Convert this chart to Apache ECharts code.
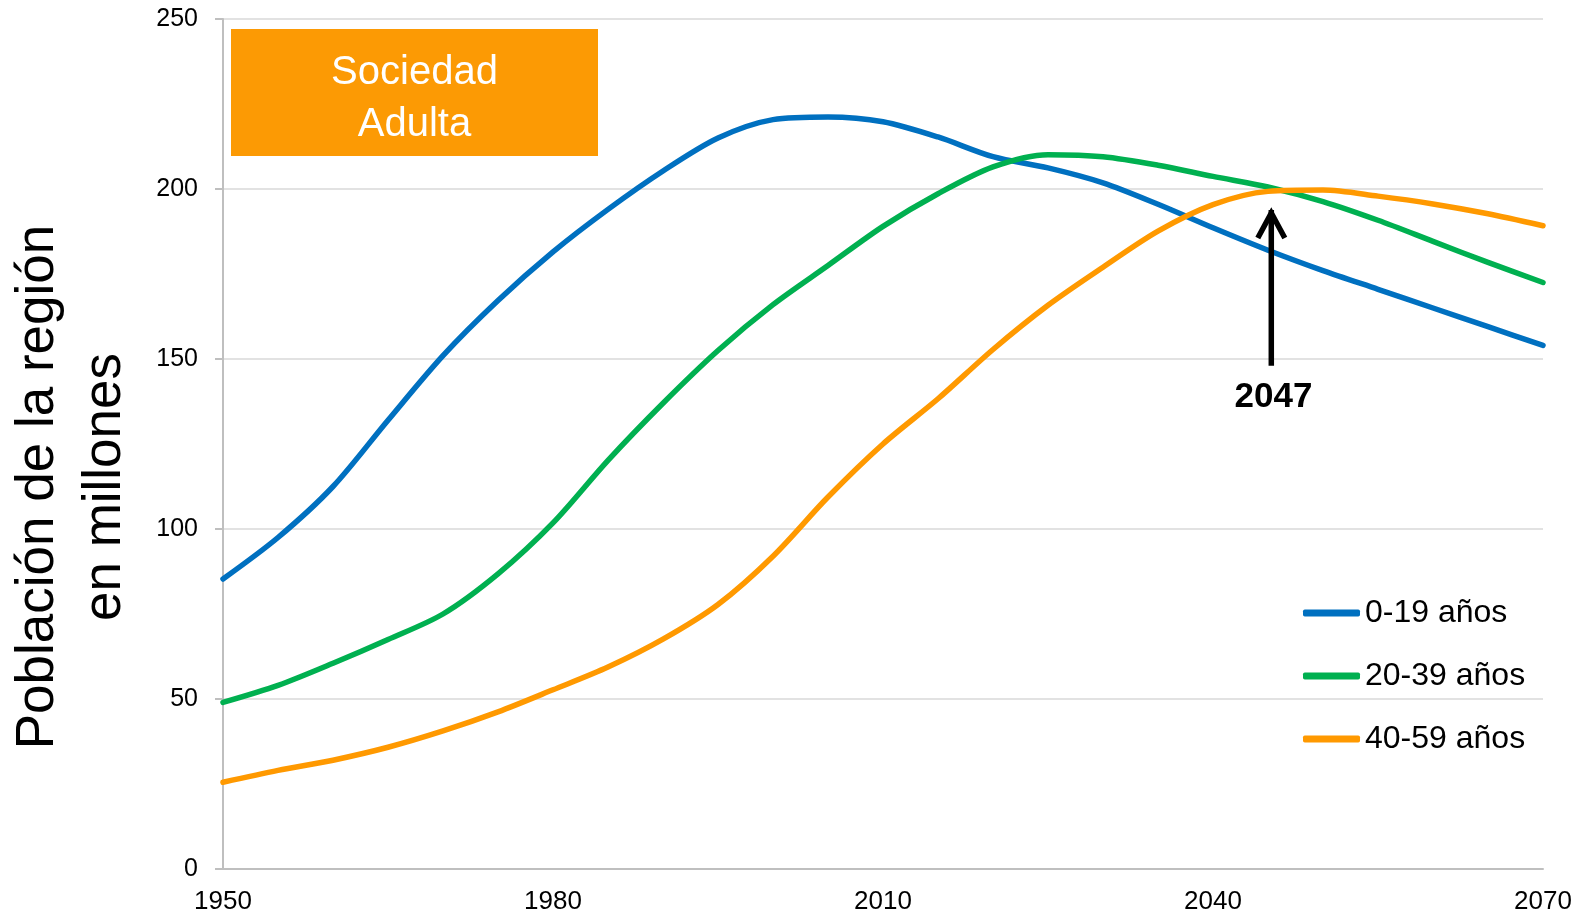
<!DOCTYPE html>
<html>
<head>
<meta charset="utf-8">
<title>Población de la región por grupos de edad</title>
<script src="https://cdn.jsdelivr.net/npm/echarts@6/dist/echarts.min.js"></script>
<style>
  html, body { margin: 0; padding: 0; background: #fff; }
  #chart { width: 1576px; height: 915px; }
</style>
</head>
<body>
<div id="chart"></div>
<script>
// años (cada 5)
const years = [1950, 1955, 1960, 1965, 1970, 1975, 1980, 1985, 1990, 1995, 2000, 2005, 2010,
  2015, 2020, 2025, 2030, 2035, 2040, 2045, 2050, 2055, 2060, 2065, 2070]

// población en millones
const edad0_19 = [85.3, 97.5, 112.5, 132, 151, 167.2, 181.5, 194, 205.3, 215, 220.4, 221.2, 219.8,
  215.3, 209.5, 206.2, 201.8, 195.5, 188.6, 182, 176, 170.5, 165, 159.5, 154]
const edad20_39 = [49, 54, 60.5, 67.5, 75, 86.8, 101.8, 120.2, 137, 152.5, 166, 177.5, 189,
  198.6, 206.5, 210.1, 209.5, 207, 203.7, 200.6, 196.3, 190.8, 184.6, 178.4, 172.5]
const edad40_59 = [25.5, 29, 32, 35.8, 40.6, 46.2, 52.7, 59.4, 67.6, 77.8, 92, 109.4, 125,
  138.3, 152.8, 165.8, 177, 187.6, 195.4, 199.3, 199.7, 197.9, 195.6, 192.7, 189.2]

const seriesNames = ['0-19 años', '20-39 años', '40-59 años']
const colors = ['#0070C0', '#00B050', '#FF9900']

// anotación: flecha en el cruce
const arrowYear = 2045.3
const arrowFrom = 148
const arrowTo = 194.4
const arrowLabel = '2047'
const arrowLabelValue = 138.6

const font = 'Arial, "Liberation Sans", sans-serif'

const toPairs = (vals) => years.map((y, i) => [y, vals[i]])

const chart = echarts.init(document.getElementById('chart'))

const makeSeries = (name, vals, color) => ({
  name: name,
  type: 'line',
  data: toPairs(vals),
  smooth: 0.3,
  symbol: 'none',
  z: 3,
  lineStyle: { color: color, width: 5.5, cap: 'round', join: 'round' },
  itemStyle: { color: color }
})

chart.setOption({
  animation: false,
  textStyle: { fontFamily: font },
  grid: { left: 223, right: 33, top: 19, bottom: 45, containLabel: false },
  legend: {
    orient: 'vertical',
    left: 1298,
    top: 592,
    icon: 'roundRect',
    itemWidth: 57,
    itemHeight: 7,
    itemGap: 31,
    data: seriesNames,
    textStyle: { fontFamily: font, fontSize: 32, lineHeight: 32, color: '#000' }
  },
  xAxis: {
    type: 'value',
    min: 1950,
    max: 2070,
    interval: 30,
    axisLine: { lineStyle: { color: '#BFBFBF', width: 2 } },
    axisTick: { show: false },
    splitLine: { show: false },
    axisLabel: {
      fontSize: 26,
      color: '#000',
      margin: 20,
      fontFamily: font,
      formatter: (v) => String(v)
    }
  },
  yAxis: {
    type: 'value',
    min: 0,
    max: 250,
    interval: 50,
    axisLine: { show: true, lineStyle: { color: '#BFBFBF', width: 2 } },
    axisTick: { show: true, length: 8, lineStyle: { color: '#BFBFBF', width: 2 } },
    splitLine: { lineStyle: { color: '#D9D9D9', width: 1.5 } },
    axisLabel: { fontSize: 25, color: '#000', margin: 25, fontFamily: font }
  },
  series: [
    makeSeries(seriesNames[0], edad0_19, colors[0]),
    makeSeries(seriesNames[1], edad20_39, colors[1]),
    makeSeries(seriesNames[2], edad40_59, colors[2])
  ]
})

// posiciones de la flecha a partir de los ejes
const tip = chart.convertToPixel({ gridIndex: 0 }, [arrowYear, arrowTo])
const base = chart.convertToPixel({ gridIndex: 0 }, [arrowYear, arrowFrom])
const lbl = chart.convertToPixel({ gridIndex: 0 }, [arrowYear + 0.2, arrowLabelValue])

chart.setOption({
  graphic: [
    {
      type: 'rect',
      left: 231,
      top: 29,
      shape: { width: 367, height: 127 },
      style: { fill: '#FC9A04' },
      z: 10
    },
    {
      type: 'text',
      x: 414.5,
      y: 99,
      style: {
        text: 'Sociedad\nAdulta',
        fill: '#fff',
        font: '40px ' + font,
        lineHeight: 52,
        textAlign: 'center',
        textVerticalAlign: 'middle'
      },
      z: 11
    },
    {
      type: 'text',
      x: 72,
      y: 487,
      rotation: Math.PI / 2,
      style: {
        text: 'Población de la región\nen millones',
        fill: '#000',
        font: '53px ' + font,
        lineHeight: 67,
        textAlign: 'center',
        textVerticalAlign: 'middle'
      }
    },
    {
      type: 'line',
      shape: { x1: base[0], y1: base[1], x2: tip[0], y2: tip[1] + 2 },
      style: { stroke: '#000', lineWidth: 5.5 },
      z: 10
    },
    {
      type: 'polyline',
      shape: { points: [[tip[0] - 13.5, tip[1] + 30], [tip[0], tip[1] + 5], [tip[0] + 13.5, tip[1] + 30]] },
      style: { stroke: '#000', fill: null, lineWidth: 5.5, lineJoin: 'miter' },
      z: 10
    },
    {
      type: 'text',
      x: lbl[0],
      y: lbl[1],
      style: {
        text: arrowLabel,
        fill: '#000',
        font: 'bold 35px ' + font,
        textAlign: 'center',
        textVerticalAlign: 'middle'
      },
      z: 10
    }
  ]
})

window.addEventListener('resize', () => chart.resize())
</script>
</body>
</html>
